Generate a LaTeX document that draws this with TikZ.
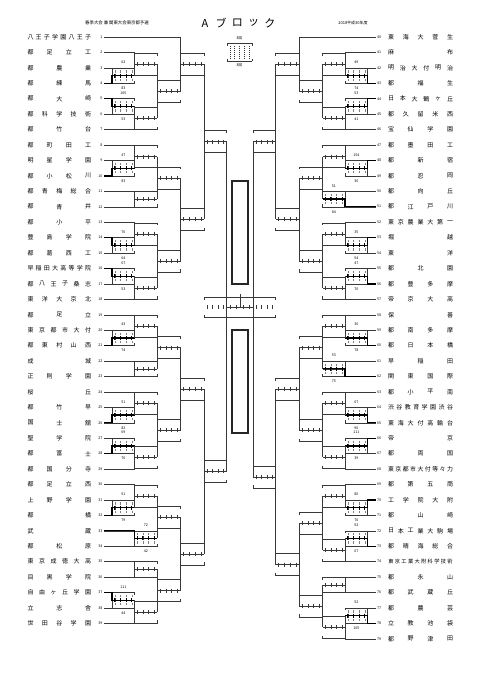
\documentclass[tikz,border=0pt]{standalone}
\usepackage{fontspec}
\setmainfont{Noto Sans CJK JP}
\tikzset{
  thinln/.style={line width=0.45pt, draw=black!78},
  boldln/.style={line width=1.3pt, draw=black},
  boldtk/.style={line width=0.9pt, draw=black},
  dotln/.style={line width=0.35pt, draw=black!50},
  tnum/.style={font=\fontsize{3.6}{4}\selectfont, inner sep=0pt},
  slab/.style={font=\fontsize{3.6}{4}\selectfont, inner sep=0pt},
  centbox/.style={line width=1.1pt, draw=black!85},
}
\newcommand\LY[1]{37+(#1-1)*15.43}
\newcommand\RY[1]{37+(#1-40)*15.43}
\newcommand\YM[1]{\csname ymX#1\endcsname}
\newcommand\bmatch[5]{%
  \pgfmathsetmacro\mA{#4}%
  \pgfmathsetmacro\mB{#5}%
  \pgfmathsetmacro\mM{(\mA+\mB)/2}%
  \pgfmathsetmacro\mH{min(11,(\mB-\mA)/2)}%
  \pgfmathsetmacro\mT{\mM-\mH}%
  \pgfmathsetmacro\mU{\mM+\mH}%
  \pgfmathsetmacro\mW{(#3-#2)/4}%
  \expandafter\xdef\csname ymX#1\endcsname{\mM}%
  \draw[thinln] (#2,\mA) -- (#2,\mB);
  \draw[thinln] (#2,\mM) -- (#3,\mM);
  \foreach \i in {0.5,1.5,2.5,3.5}{\draw[thinln] ({#2+\i*\mW},\mM-2) -- ++(0,4);}
  \draw[thinln] (#2,\mT) -- (#3,\mT) -- ++(0,2.5);
  \draw[thinln] (#2,\mU) -- (#3,\mU) -- ++(0,-2.5);
}
\newcommand\pmatch[9]{%
  \bmatch{#1}{#2}{#3}{#4}{#5}%
  \pgfmathsetmacro\mWY{#6}%
  \foreach \i in {0.5,1.5,2.5,3.5}{%
    \draw[dotln] ({#2+\i*\mW},\mM-5.2) -- ++(0,2.2);
    \draw[dotln] ({#2+\i*\mW},\mM+3) -- ++(0,2.2);}
  \draw[boldln] (#9,\mWY) -- (#2,\mWY) -- (#2,\mM) -- (#3,\mM);
  \foreach \i in {0.5,1.5,2.5,3.5}{\draw[boldtk] ({#2+\i*\mW},\mM-2) -- ++(0,4);}
  \node[slab] (lab#1a) at ({(#2+#3)/2},\mA-5.5) {#7};
  \node[slab] (lab#1b) at ({(#2+#3)/2},\mB+5) {#8};
}
\newcommand\tname[5]{%
  \foreach \c [count=\k] in {#5}{\xdef\tnN{\k}}%
  \pgfmathsetmacro\tnS{(#3-#2)/(\tnN-1)}%
  \pgfmathsetmacro\tnF{min(6,0.8*\tnS)}%
  \foreach \c [count=\k] in {#5}{%
    \node[inner sep=0pt, font=\fontsize{\tnF}{\tnF}\selectfont] (#1-\k) at ({#2+(\k-1)*\tnS},#4) {\c};}%
}
\newcommand\lteam[2]{%
  \pgfmathsetmacro\ty{37+(#1-1)*15.43}%
  \tname{L#1}{30.5}{88}{\ty}{#2}%
  \node[tnum, anchor=east] (numL#1) at (102.5,\ty) {#1};
}
\newcommand\rteam[2]{%
  \pgfmathsetmacro\ty{37+(#1-40)*15.43}%
  \tname{R#1}{391}{450}{\ty}{#2}%
  \node[tnum, anchor=west] (numR#1) at (377,\ty) {#1};
}
\begin{document}
\begin{tikzpicture}[x=1pt,y=-1pt]
\useasboundingbox (0,0) rectangle (481,680);
\fill[white] (0,0) rectangle (481,680);
% header
\node[inner sep=0pt, font=\fontsize{4.4}{5}\selectfont] (hdrL) at (117,23) {春季大会 兼 関東大会東京都予選};
\node[inner sep=0pt, font=\fontsize{4}{5}\selectfont] (hdrR) at (353,23) {2018平成30年度};
\foreach \ch [count=\k] in {A,ブ,ロ,ッ,ク}{%
  \node[inner sep=0pt, font=\fontsize{11}{12}\selectfont] (ttl\k) at ({205+(\k-1)*16.2},23) {\ch};}
% legend
\draw[thinln] (227,43) -- (252,43); \draw[thinln] (227,43) -- ++(0,2.5); \draw[thinln] (252,43) -- ++(0,2.5);
\draw[thinln] (227,61) -- (252,61); \draw[thinln] (227,61) -- ++(0,-2.5); \draw[thinln] (252,61) -- ++(0,-2.5);
\foreach \xx in {229.8,234.5,239.5,244.5,249.2}{\draw[thinln, dash pattern=on 1pt off 1pt] (\xx,45.5) -- (\xx,58.5);}
\node[slab] (legT) at (239.5,38.6) {8回};
\node[slab] (legB) at (239.5,65.4) {8回};
% columns
\def\pL{104}\def\cLa{112}\def\cLb{134.5}\def\cLc{157}\def\cLd{180.5}\def\cLe{204}\def\cLf{226.5}
\def\pR{375.5}\def\cRa{367.5}\def\cRb{345}\def\cRc{322.5}\def\cRd{299}\def\cRe{275.5}\def\cRf{253}
% player lines left
\draw[thinln] (\pL,{\LY{1}}) -- (\cLd,{\LY{1}});
\foreach \r in {3,4,5,6,9,10,14,15,16,17,20,21,25,26,27,28,31,32,37,38}{\draw[thinln] (\pL,{37+(\r-1)*15.43}) -- (\cLa,{37+(\r-1)*15.43});}
\foreach \r in {2,7,8,11,12,13,18,19,22,23,24,29,30,33,34,35,36,39}{\draw[thinln] (\pL,{37+(\r-1)*15.43}) -- (\cLb,{37+(\r-1)*15.43});}
% player lines right
\draw[thinln] (\pR,{\RY{40}}) -- (\cRd,{\RY{40}});
\foreach \r in {42,43,44,45,48,49,53,54,55,56,59,60,64,65,66,67,70,71,72,73,77,78}{\draw[thinln] (\pR,{37+(\r-40)*15.43}) -- (\cRa,{37+(\r-40)*15.43});}
\foreach \r in {41,46,47,50,51,52,57,58,61,62,63,68,69,74,75,76,79}{\draw[thinln] (\pR,{37+(\r-40)*15.43}) -- (\cRb,{37+(\r-40)*15.43});}
% ---------- left bracket
\pmatch{L34}{\cLa}{\cLb}{\LY{3}}{\LY{4}}{\LY{4}}{62}{83}{\pL}
\pmatch{L56}{\cLa}{\cLb}{\LY{5}}{\LY{6}}{\LY{5}}{105}{53}{\pL}
\pmatch{L910}{\cLa}{\cLb}{\LY{9}}{\LY{10}}{\LY{10}}{47}{83}{\pL}
\pmatch{L1415}{\cLa}{\cLb}{\LY{14}}{\LY{15}}{\LY{14}}{70}{64}{\pL}
\pmatch{L1617}{\cLa}{\cLb}{\LY{16}}{\LY{17}}{\LY{16}}{67}{53}{\pL}
\pmatch{L2021}{\cLa}{\cLb}{\LY{20}}{\LY{21}}{\LY{21}}{43}{74}{\pL}
\pmatch{L2526}{\cLa}{\cLb}{\LY{25}}{\LY{26}}{\LY{26}}{51}{82}{\pL}
\pmatch{L2728}{\cLa}{\cLb}{\LY{27}}{\LY{28}}{\LY{28}}{69}{76}{\pL}
\pmatch{L3132}{\cLa}{\cLb}{\LY{31}}{\LY{32}}{\LY{32}}{51}{79}{\pL}
\pmatch{L3738}{\cLa}{\cLb}{\LY{37}}{\LY{38}}{\LY{37}}{111}{44}{\pL}
\bmatch{La}{\cLb}{\cLc}{\LY{2}}{\YM{L34}}
\bmatch{Lb}{\cLb}{\cLc}{\YM{L56}}{\LY{7}}
\bmatch{Lc}{\cLb}{\cLc}{\LY{8}}{\YM{L910}}
\bmatch{Ld}{\cLb}{\cLc}{\LY{11}}{\LY{12}}
\bmatch{Le}{\cLb}{\cLc}{\LY{13}}{\YM{L1415}}
\bmatch{Lf}{\cLb}{\cLc}{\YM{L1617}}{\LY{18}}
\bmatch{Lg}{\cLb}{\cLc}{\LY{19}}{\YM{L2021}}
\bmatch{Lh}{\cLb}{\cLc}{\LY{22}}{\LY{23}}
\bmatch{Li}{\cLb}{\cLc}{\LY{24}}{\YM{L2526}}
\bmatch{Lj}{\cLb}{\cLc}{\YM{L2728}}{\LY{29}}
\bmatch{Lk}{\cLb}{\cLc}{\LY{30}}{\YM{L3132}}
\pmatch{Ll}{\cLb}{\cLc}{\LY{33}}{\LY{34}}{\LY{33}}{72}{42}{\pL}
\bmatch{Lm}{\cLb}{\cLc}{\LY{35}}{\LY{36}}
\bmatch{Ln}{\cLb}{\cLc}{\YM{L3738}}{\LY{39}}
\bmatch{LA}{\cLc}{\cLd}{\YM{La}}{\YM{Lb}}
\bmatch{LB}{\cLc}{\cLd}{\YM{Lc}}{\YM{Ld}}
\bmatch{LC}{\cLc}{\cLd}{\YM{Le}}{\YM{Lf}}
\bmatch{LD}{\cLc}{\cLd}{\YM{Lg}}{\YM{Lh}}
\bmatch{LE}{\cLc}{\cLd}{\YM{Li}}{\YM{Lj}}
\bmatch{LF}{\cLc}{\cLd}{\YM{Lk}}{\YM{Ll}}
\bmatch{LG}{\cLc}{\cLd}{\YM{Lm}}{\YM{Ln}}
\bmatch{LQa}{\cLd}{\cLe}{\LY{1}}{\YM{LA}}
\bmatch{LQb}{\cLd}{\cLe}{\YM{LB}}{\YM{LC}}
\bmatch{LQc}{\cLd}{\cLe}{\YM{LD}}{\YM{LE}}
\bmatch{LQd}{\cLd}{\cLe}{\YM{LF}}{\YM{LG}}
\bmatch{LSa}{\cLe}{\cLf}{\YM{LQa}}{\YM{LQb}}
\bmatch{LSb}{\cLe}{\cLf}{\YM{LQc}}{\YM{LQd}}
% ---------- right bracket
\pmatch{R4243}{\cRa}{\cRb}{\RY{42}}{\RY{43}}{\RY{43}}{49}{74}{\pR}
\pmatch{R4445}{\cRa}{\cRb}{\RY{44}}{\RY{45}}{\RY{44}}{53}{41}{\pR}
\pmatch{R4849}{\cRa}{\cRb}{\RY{48}}{\RY{49}}{\RY{48}}{154}{36}{\pR}
\pmatch{R5354}{\cRa}{\cRb}{\RY{53}}{\RY{54}}{\RY{53}}{35}{54}{\pR}
\pmatch{R5556}{\cRa}{\cRb}{\RY{55}}{\RY{56}}{\RY{56}}{47}{70}{\pR}
\pmatch{R5960}{\cRa}{\cRb}{\RY{59}}{\RY{60}}{\RY{60}}{36}{78}{\pR}
\pmatch{R6465}{\cRa}{\cRb}{\RY{64}}{\RY{65}}{\RY{65}}{67}{90}{\pR}
\pmatch{R6667}{\cRa}{\cRb}{\RY{66}}{\RY{67}}{\RY{66}}{111}{39}{\pR}
\pmatch{R7071}{\cRa}{\cRb}{\RY{70}}{\RY{71}}{\RY{70}}{80}{70}{\pR}
\pmatch{R7273}{\cRa}{\cRb}{\RY{72}}{\RY{73}}{\RY{73}}{52}{67}{\pR}
\pmatch{R7778}{\cRa}{\cRb}{\RY{77}}{\RY{78}}{\RY{78}}{52}{105}{\pR}
\bmatch{Ra}{\cRb}{\cRc}{\RY{41}}{\YM{R4243}}
\bmatch{Rb}{\cRb}{\cRc}{\YM{R4445}}{\RY{46}}
\bmatch{Rc}{\cRb}{\cRc}{\RY{47}}{\YM{R4849}}
\pmatch{Rd}{\cRb}{\cRc}{\RY{50}}{\RY{51}}{\RY{51}}{51}{84}{\pR}
\bmatch{Re}{\cRb}{\cRc}{\RY{52}}{\YM{R5354}}
\bmatch{Rf}{\cRb}{\cRc}{\YM{R5556}}{\RY{57}}
\bmatch{Rg}{\cRb}{\cRc}{\RY{58}}{\YM{R5960}}
\pmatch{Rh}{\cRb}{\cRc}{\RY{61}}{\RY{62}}{\RY{62}}{53}{75}{\pR}
\bmatch{Ri}{\cRb}{\cRc}{\RY{63}}{\YM{R6465}}
\bmatch{Rj}{\cRb}{\cRc}{\YM{R6667}}{\RY{68}}
\bmatch{Rk}{\cRb}{\cRc}{\RY{69}}{\YM{R7071}}
\bmatch{Rl}{\cRb}{\cRc}{\YM{R7273}}{\RY{74}}
\bmatch{Rm}{\cRb}{\cRc}{\RY{75}}{\RY{76}}
\bmatch{Rn}{\cRb}{\cRc}{\YM{R7778}}{\RY{79}}
\bmatch{RA}{\cRc}{\cRd}{\YM{Ra}}{\YM{Rb}}
\bmatch{RB}{\cRc}{\cRd}{\YM{Rc}}{\YM{Rd}}
\bmatch{RC}{\cRc}{\cRd}{\YM{Re}}{\YM{Rf}}
\bmatch{RD}{\cRc}{\cRd}{\YM{Rg}}{\YM{Rh}}
\bmatch{RE}{\cRc}{\cRd}{\YM{Ri}}{\YM{Rj}}
\bmatch{RF}{\cRc}{\cRd}{\YM{Rk}}{\YM{Rl}}
\bmatch{RG}{\cRc}{\cRd}{\YM{Rm}}{\YM{Rn}}
\bmatch{RQa}{\cRd}{\cRe}{\RY{40}}{\YM{RA}}
\bmatch{RQb}{\cRd}{\cRe}{\YM{RB}}{\YM{RC}}
\bmatch{RQc}{\cRd}{\cRe}{\YM{RD}}{\YM{RE}}
\bmatch{RQd}{\cRd}{\cRe}{\YM{RF}}{\YM{RG}}
\bmatch{RSa}{\cRe}{\cRf}{\YM{RQa}}{\YM{RQb}}
\bmatch{RSb}{\cRe}{\cRf}{\YM{RQc}}{\YM{RQd}}
% ---------- semifinal verticals and final
\pgfmathsetmacro\sLa{\YM{LSa}}\pgfmathsetmacro\sLb{\YM{LSb}}
\pgfmathsetmacro\sRa{\YM{RSa}}\pgfmathsetmacro\sRb{\YM{RSb}}
\draw[thinln] (\cLf,\sLa) -- (\cLf,\sLb);
\draw[thinln] (\cRf,\sRa) -- (\cRf,\sRb);
\draw[thinln] (204,297) -- (275.5,297);
\draw[thinln] (204,297) -- ++(0,2.5); \draw[thinln] (275.5,297) -- ++(0,2.5);
\draw[thinln] (204,317.5) -- (275.5,317.5);
\draw[thinln] (204,317.5) -- ++(0,-2.5); \draw[thinln] (275.5,317.5) -- ++(0,-2.5);
\draw[thinln] (\cLf,307) -- (\cRf,307);
\foreach \i in {0.5,1.5,2.5,3.5}{%
  \draw[thinln] ({204+\i*5.625},305) -- ++(0,4);
  \draw[thinln] ({226.5+\i*6.625},305) -- ++(0,4);
  \draw[thinln] ({253+\i*5.625},305) -- ++(0,4);}
\draw[thinln] (239.75,294) -- (239.75,307);
\draw[centbox] (232,181) rectangle (248,284);
\draw[centbox] (232,330) rectangle (248,433);
% ---------- team names
\lteam{1}{八,王,子,学,園,八,王,子}
\lteam{2}{都,足,立,工}
\lteam{3}{都,農,業}
\lteam{4}{都,練,馬}
\lteam{5}{都,大,崎}
\lteam{6}{都,科,学,技,術}
\lteam{7}{都,竹,台}
\lteam{8}{都,町,田,工}
\lteam{9}{明,星,学,園}
\lteam{10}{都,小,松,川}
\lteam{11}{都,青,梅,総,合}
\lteam{12}{都,青,井}
\lteam{13}{都,小,平}
\lteam{14}{豊,島,学,院}
\lteam{15}{都,葛,西,工}
\lteam{16}{早,稲,田,大,高,等,学,院}
\lteam{17}{都,八,王,子,桑,志}
\lteam{18}{東,洋,大,京,北}
\lteam{19}{都,足,立}
\lteam{20}{東,京,都,市,大,付}
\lteam{21}{都,東,村,山,西}
\lteam{22}{成,城}
\lteam{23}{正,則,学,園}
\lteam{24}{桜,丘}
\lteam{25}{都,竹,早}
\lteam{26}{国,士,舘}
\lteam{27}{聖,学,院}
\lteam{28}{都,富,士}
\lteam{29}{都,国,分,寺}
\lteam{30}{都,足,立,西}
\lteam{31}{上,野,学,園}
\lteam{32}{都,橘}
\lteam{33}{武,蔵}
\lteam{34}{都,松,原}
\lteam{35}{東,京,成,徳,大,高}
\lteam{36}{目,黒,学,院}
\lteam{37}{自,由,ヶ,丘,学,園}
\lteam{38}{立,志,舎}
\lteam{39}{世,田,谷,学,園}
\rteam{40}{東,海,大,菅,生}
\rteam{41}{麻,布}
\rteam{42}{明,治,大,付,明,治}
\rteam{43}{都,福,生}
\rteam{44}{日,本,大,鶴,ヶ,丘}
\rteam{45}{都,久,留,米,西}
\rteam{46}{宝,仙,学,園}
\rteam{47}{都,墨,田,工}
\rteam{48}{都,新,宿}
\rteam{49}{都,忍,岡}
\rteam{50}{都,向,丘}
\rteam{51}{都,江,戸,川}
\rteam{52}{東,京,農,業,大,第,一}
\rteam{53}{堀,越}
\rteam{54}{東,洋}
\rteam{55}{都,北,園}
\rteam{56}{都,豊,多,摩}
\rteam{57}{帝,京,大,高}
\rteam{58}{保,善}
\rteam{59}{都,南,多,摩}
\rteam{60}{都,日,本,橋}
\rteam{61}{早,稲,田}
\rteam{62}{関,東,国,際}
\rteam{63}{都,小,平,南}
\rteam{64}{渋,谷,教,育,学,園,渋,谷}
\rteam{65}{東,海,大,付,高,輪,台}
\rteam{66}{帝,京}
\rteam{67}{都,両,国}
\rteam{68}{東,京,都,市,大,付,等,々,力}
\rteam{69}{都,第,五,商}
\rteam{70}{工,学,院,大,附}
\rteam{71}{都,山,崎}
\rteam{72}{日,本,工,業,大,駒,場}
\rteam{73}{都,晴,海,総,合}
\rteam{74}{東,京,工,業,大,附,科,学,技,術}
\rteam{75}{都,永,山}
\rteam{76}{都,武,蔵,丘}
\rteam{77}{都,農,芸}
\rteam{78}{立,教,池,袋}
\rteam{79}{都,野,津,田}
\end{tikzpicture}
\end{document}
